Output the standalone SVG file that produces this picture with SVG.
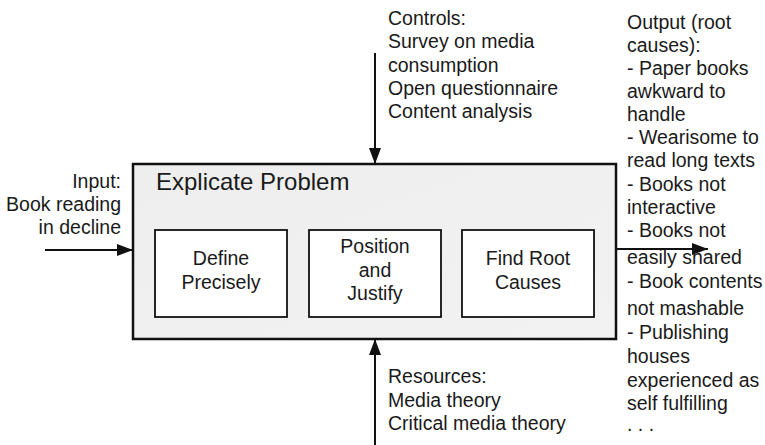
<svg xmlns="http://www.w3.org/2000/svg" width="765" height="445" viewBox="0 0 765 445">
  <defs>
    <marker id="arrow" markerWidth="16" markerHeight="12" refX="16" refY="6" orient="auto" markerUnits="userSpaceOnUse">
      <path d="M0,0 L16,6 L0,12 Z" fill="#111"/>
    </marker>
    <linearGradient id="boxFill" x1="0" y1="0" x2="1" y2="1">
      <stop offset="0" stop-color="#eeeeee"/>
      <stop offset="1" stop-color="#f2f2f2"/>
    </linearGradient>
  </defs>
  <style>
    text { font-family: "Liberation Sans", Arial, sans-serif; font-size: 19.5px; fill: #1a1a1a; }
    .title { font-size: 24px; }
    .mid { text-anchor: middle; }
    .end { text-anchor: end; }
    .frame { fill: url(#boxFill); stroke: #111; stroke-width: 2.5; }
    .step { fill: #fff; stroke: #111; stroke-width: 1.8; }
    .flow { stroke: #111; stroke-width: 2; fill: none; marker-end: url(#arrow); }
  </style>

  <!-- main activity -->
  <g id="explicate-problem">
    <rect class="frame" x="133" y="164" width="483" height="175"/>
    <text class="title" x="156" y="190">Explicate Problem</text>
  </g>

  <g id="define-precisely">
    <rect class="step" x="155" y="230" width="132" height="87"/>
    <text class="mid" x="221" y="265">Define</text>
    <text class="mid" x="221" y="289">Precisely</text>
  </g>

  <g id="position-justify">
    <rect class="step" x="309" y="230" width="132" height="87"/>
    <text class="mid" x="375" y="253">Position</text>
    <text class="mid" x="375" y="277">and</text>
    <text class="mid" x="375" y="300">Justify</text>
  </g>

  <g id="find-root-causes">
    <rect class="step" x="462" y="230" width="132" height="87"/>
    <text class="mid" x="528" y="265">Find Root</text>
    <text class="mid" x="528" y="289">Causes</text>
  </g>

  <!-- flows in and out -->
  <g id="connectors">
    <line class="flow" x1="45" y1="250" x2="133" y2="250"/>
    <line class="flow" x1="616" y1="249" x2="708" y2="249"/>
    <line class="flow" x1="375" y1="53" x2="375" y2="164"/>
    <line class="flow" x1="375" y1="445" x2="375" y2="339"/>
  </g>

  <g id="input-label">
    <text class="end" x="121" y="188">Input:</text>
    <text class="end" x="121" y="211">Book reading</text>
    <text class="end" x="121" y="234">in decline</text>
  </g>

  <g id="controls-label">
    <text x="388" y="25">Controls:</text>
    <text x="388" y="48">Survey on media</text>
    <text x="388" y="72">consumption</text>
    <text x="388" y="95">Open questionnaire</text>
    <text x="388" y="118">Content analysis</text>
  </g>

  <g id="resources-label">
    <text x="388" y="383">Resources:</text>
    <text x="388" y="407">Media theory</text>
    <text x="388" y="430">Critical media theory</text>
  </g>

  <g id="output-label">
    <text x="627" y="29">Output (root</text>
    <text x="627" y="52">causes):</text>
    <text x="627" y="75">- Paper books</text>
    <text x="627" y="98">awkward to</text>
    <text x="627" y="121">handle</text>
    <text x="627" y="144">- Wearisome to</text>
    <text x="627" y="167">read long texts</text>
    <text x="627" y="191">- Books not</text>
    <text x="627" y="214">interactive</text>
    <text x="627" y="237">- Books not</text>
    <text x="627" y="264">easily shared</text>
    <text x="627" y="288">- Book contents</text>
    <text x="627" y="315">not mashable</text>
    <text x="627" y="339">- Publishing</text>
    <text x="627" y="363">houses</text>
    <text x="627" y="387">experienced as</text>
    <text x="627" y="410">self fulfilling</text>
    <text x="627" y="431">. . .</text>
  </g>
</svg>
